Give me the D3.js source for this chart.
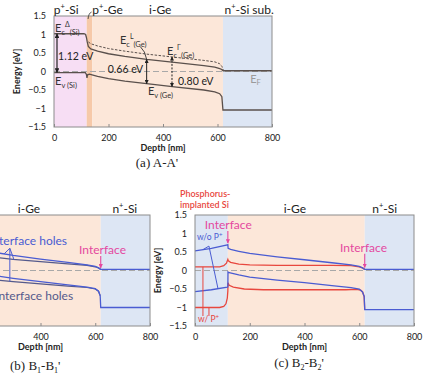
<!DOCTYPE html>
<html>
<head>
<meta charset="utf-8">
<script src="https://cdn.jsdelivr.net/npm/d3@7"></script>
<style>
  body { margin: 0; background: #fff; }
  svg { display: block; font-family: Lato, "Open Sans", sans-serif; }
</style>
</head>
<body>
<div id="chart"></div>
<script>
// ---- data ----
const depthTicks = [0, 200, 400, 600, 800];
const energyTicks = [1.5, 1, 0.5, 0, -0.5, -1, -1.5];

// layer stacks [from nm, to nm, layer]
const layersA = [[0, 120, 'pSi'], [120, 140, 'pGe'], [140, 620, 'iGe'], [620, 800, 'nSi']];
const layersB = [[0, 620, 'iGe'], [620, 800, 'nSi']];
const layersC = [[0, 120, 'nSi'], [120, 620, 'iGe'], [620, 800, 'nSi']];

// (a) A-A'  [depth nm, energy eV]
const ecA = [[0, 1.02], [110, 1.02], [116, 1.0], [119, 0.92], [122, 0.8], [126, 0.68], [135, 0.61], [160, 0.55],
  [200, 0.48], [260, 0.41], [340, 0.33], [450, 0.24], [550, 0.16], [590, 0.12], [608, 0.08], [616, 0.05],
  [621, 0.02], [800, 0.02]];
const ecGammaA = [[126, 0.8], [135, 0.75], [160, 0.69], [200, 0.62], [260, 0.55], [340, 0.47], [450, 0.38],
  [550, 0.3], [590, 0.26], [608, 0.21], [616, 0.14], [621, 0.04]];
const evA = [[0, -0.03], [115, -0.03], [119, -0.08], [121, -0.17], [123, -0.09], [130, -0.07], [160, -0.13],
  [200, -0.19], [260, -0.26], [340, -0.33], [450, -0.42], [550, -0.5], [590, -0.55], [608, -0.6],
  [616, -0.68], [620, -1.04], [800, -1.04]];
const gapDepthsA = [11, 340, 433];
const gapLabelsA = ['1.12 eV', '0.66 eV', '0.80 eV'];

// (b) B1-B1'
const ec1B = [[120, 0.66], [200, 0.54], [241, 0.48], [300, 0.41], [400, 0.31], [500, 0.22], [570, 0.15],
  [600, 0.11], [612, 0.07], [620, 0.03], [800, 0.03]];
const ec2B = [[120, 0.5], [241, 0.35], [300, 0.3], [400, 0.24], [500, 0.18], [570, 0.14], [600, 0.1], [612, 0.07], [620, 0.03]];
const ev1B = [[120, 0.0], [241, -0.15], [300, -0.21], [400, -0.3], [500, -0.39], [570, -0.45], [600, -0.49],
  [612, -0.56], [618, -0.68], [620, -1.0], [800, -1.0]];
const ev2B = [[120, -0.12], [241, -0.26], [300, -0.3], [400, -0.36], [500, -0.42], [570, -0.46], [600, -0.5], [612, -0.56], [618, -0.68]];

// (c) B2-B2'
const blueEcC = [[0, 0.53], [60, 0.6], [118, 0.69], [120, 0.7], [121, 0.6], [130, 0.57], [160, 0.52], [200, 0.46],
  [300, 0.37], [400, 0.29], [500, 0.21], [570, 0.15], [600, 0.11], [612, 0.07], [620, 0.03], [800, 0.03]];
const blueEvC = [[0, -0.57], [60, -0.52], [118, -0.45], [120, -0.44], [120.5, -0.04], [125, -0.06], [160, -0.12],
  [200, -0.18], [300, -0.26], [400, -0.33], [500, -0.41], [570, -0.46], [600, -0.5], [612, -0.58],
  [618, -0.7], [620, -1.06], [800, -1.06]];
const redEcC = [[0, 0.1], [90, 0.1], [105, 0.13], [115, 0.2], [119, 0.28], [120, 0.3], [122, 0.26], [130, 0.22],
  [160, 0.17], [200, 0.15], [300, 0.14], [400, 0.14], [500, 0.14], [570, 0.13], [600, 0.1], [612, 0.07], [620, 0.03]];
const redEvC = [[0, -1.0], [90, -1.0], [105, -0.97], [113, -0.9], [118, -0.75], [120, -0.55], [120.5, -0.33],
  [125, -0.4], [140, -0.45], [180, -0.5], [250, -0.52], [400, -0.52], [550, -0.52], [590, -0.51],
  [605, -0.53], [612, -0.58], [618, -0.7], [620, -1.06]];

// ---- styles ----
const fills = { pSi: '#f7def4', pGe: '#f6c9a9', iGe: '#fce7d9', nSi: '#dde6f4' };
const bandColor = '#5a504c';
const blue = '#4a5cd2';
const slate = '#555a8c';
const red = '#e8473e';
const magenta = '#e4489f';

const svg = d3.select('#chart').append('svg').attr('width', 430).attr('height', 380);
svg.append('rect').attr('width', 430).attr('height', 380).attr('fill', '#fff');

const defs = svg.append('defs');
function marker(id, color, size) {
  defs.append('marker').attr('id', id).attr('viewBox', '0 0 10 10')
    .attr('refX', 9).attr('refY', 5).attr('markerWidth', size).attr('markerHeight', size)
    .attr('orient', 'auto-start-reverse')
    .append('path').attr('d', 'M0,0L10,5L0,10z').attr('fill', color);
}
marker('arrBlack', '#222', 4);
marker('arrPink', magenta, 4);

function interp(series, d) {
  const i = d3.bisector(p => p[0]).left(series, d);
  if (i <= 0) return series[0][1];
  if (i >= series.length) return series[series.length - 1][1];
  const a = series[i - 1], b = series[i];
  return a[1] + (b[1] - a[1]) * (d - a[0]) / (b[0] - a[0]);
}

function panel(box, layers, showY) {
  const x = d3.scaleLinear().domain([0, 800]).range([box.left, box.right]);
  const y = d3.scaleLinear().domain([-1.5, 1.5]).range([box.bottom, box.top]);
  const g = svg.append('g');

  g.selectAll('rect.layer').data(layers).join('rect')
    .attr('class', 'layer')
    .attr('x', d => x(d[0])).attr('width', d => x(d[1]) - x(d[0]))
    .attr('y', box.top).attr('height', box.bottom - box.top)
    .attr('fill', d => fills[d[2]]);

  // only the ticks that fall inside the page (panel b is cut at the left edge)
  const visibleTicks = depthTicks.filter(t => x(t) > 8);
  const xa = g.append('g').attr('transform', `translate(0,${box.bottom})`)
    .call(d3.axisBottom(x).tickValues(visibleTicks).tickSize(-3).tickPadding(8));
  xa.select('.domain').remove();
  xa.selectAll('line').attr('stroke', '#8a8a8a');
  xa.selectAll('text').attr('font-size', 9).attr('fill', '#222').attr('font-family', 'Lato, sans-serif');

  if (showY) {
    const ya = g.append('g').attr('transform', `translate(${box.left},0)`)
      .call(d3.axisLeft(y).tickValues(energyTicks).tickSize(0).tickPadding(8).tickFormat(d3.format('')));
    ya.select('.domain').remove();
    ya.selectAll('text').attr('font-size', 9).attr('fill', '#222').attr('font-family', 'Lato, sans-serif');
    g.append('text')
      .attr('transform', `translate(${box.left - 34},${(box.top + box.bottom) / 2}) rotate(-90)`)
      .attr('text-anchor', 'middle').attr('font-size', 9).attr('font-weight', 'bold').attr('fill', '#222')
      .text('Energy [eV]');
  }

  g.append('text').attr('x', (box.left + box.right) / 2).attr('y', box.bottom + 24)
    .attr('text-anchor', 'middle').attr('font-size', 9).attr('font-weight', 'bold').attr('fill', '#222')
    .text('Depth [nm]');

  const line = d3.line().x(d => x(d[0])).y(d => y(d[1]));
  return { g, x, y, line };
}

function curve(p, data, color, width, dash) {
  p.g.append('path').datum(data).attr('d', p.line)
    .attr('fill', 'none').attr('stroke', color).attr('stroke-width', width)
    .attr('stroke-dasharray', dash || null);
}

function fermi(p) {
  p.g.append('line').attr('x1', p.x(0)).attr('x2', p.x(800)).attr('y1', p.y(0)).attr('y2', p.y(0))
    .attr('stroke', '#a8a8a8').attr('stroke-width', 1.2).attr('stroke-dasharray', '6,3');
}

function border(p) {
  p.g.append('rect').attr('x', p.x(0)).attr('y', p.y(1.5))
    .attr('width', p.x(800) - p.x(0)).attr('height', p.y(-1.5) - p.y(1.5))
    .attr('fill', 'none').attr('stroke', '#8c8c8c').attr('stroke-width', 1);
}

// rich text: parts = [text, dy, size]
function rich(g, px, py, parts, color, anchor) {
  const t = g.append('text').attr('x', px).attr('y', py).attr('fill', color)
    .attr('text-anchor', anchor || 'start');
  parts.forEach(([s, dy, size]) => {
    t.append('tspan').attr('dy', dy).attr('font-size', size).text(s);
  });
  return t;
}

function label(p, d, e, s, opts) {
  return p.g.append('text').attr('x', p.x(d)).attr('y', p.y(e))
    .attr('font-size', opts.size || 12).attr('fill', opts.color || '#222')
    .attr('text-anchor', opts.anchor || 'start').attr('font-weight', opts.weight || null)
    .text(s);
}

function pinkArrow(p, d, e0, e1) {
  p.g.append('line').attr('x1', p.x(d)).attr('x2', p.x(d)).attr('y1', p.y(e0)).attr('y2', p.y(e1))
    .attr('stroke', magenta).attr('stroke-width', 1.1).attr('marker-end', 'url(#arrPink)');
}

function leader(p, from, to, color) {
  p.g.append('line').attr('x1', p.x(from[0])).attr('y1', p.y(from[1]))
    .attr('x2', p.x(to[0])).attr('y2', p.y(to[1]))
    .attr('stroke', color).attr('stroke-width', 1);
}

// ---- panel (a) ----
const pa = panel({ left: 54, right: 272, top: 16, bottom: 127 }, layersA, true);
fermi(pa);
curve(pa, ecGammaA, bandColor, 1, '2.5,1.5');
curve(pa, ecA, bandColor, 1.3);
curve(pa, evA, bandColor, 1.3);
border(pa);

gapDepthsA.forEach((d, i) => {
  const top = i === 2 ? interp(ecGammaA, d) : interp(ecA, d);
  const bottom = interp(evA, d);
  pa.g.append('line').attr('x1', pa.x(d)).attr('x2', pa.x(d))
    .attr('y1', pa.y(top)).attr('y2', pa.y(bottom))
    .attr('stroke', '#222').attr('stroke-width', i === 0 ? 1.2 : 1)
    .attr('stroke-dasharray', i === 2 ? '2,1.5' : null)
    .attr('marker-start', 'url(#arrBlack)').attr('marker-end', 'url(#arrBlack)');
});
label(pa, 15, 0.31, gapLabelsA[0], { size: 10.5 });
label(pa, 327, -0.04, gapLabelsA[1], { size: 10.5, anchor: 'end' });
label(pa, 455, -0.36, gapLabelsA[2], { size: 10.5 });

rich(pa.g, pa.x(4), pa.y(1.07), [['E', 0, 11], ['c', 3, 7.5], ['Δ', -8, 7], ['(Si)', 8, 7.5]], '#333');
rich(pa.g, pa.x(4), pa.y(-0.36), [['E', 0, 11], ['v', 3, 7.5], [' (Si)', 0, 7.5]], '#333');
rich(pa.g, pa.x(242), pa.y(0.74), [['E', 0, 11], ['c', 3, 7.5], ['L', -8, 7], ['(Ge)', 8, 7.5]], '#333');
rich(pa.g, pa.x(415), pa.y(0.45), [['E', 0, 11], ['c', 3, 7.5], ['Γ', -8, 7], ['(Ge)', 8, 7.5]], '#333');
rich(pa.g, pa.x(345), pa.y(-0.64), [['E', 0, 11], ['v', 3, 7.5], [' (Ge)', 0, 7.5]], '#333');
rich(pa.g, pa.x(720), pa.y(-0.32), [['E', 0, 11], ['F', 2, 7.5]], '#9a9a9a');
pa.g.append('path')
  .attr('d', `M${pa.x(317)},${pa.y(0.67)} Q${pa.x(335)},${pa.y(0.55)} ${pa.x(340)},${pa.y(interp(ecA, 340))}`)
  .attr('fill', 'none').attr('stroke', '#333').attr('stroke-width', 0.9);

// layer names above (a)
rich(pa.g, pa.x(45), pa.y(1.5) - 2, [['p', 0, 12], ['+', -5, 7.5], ['-Si', 5, 12]], '#222', 'middle');
rich(pa.g, pa.x(140), pa.y(1.5) - 2, [['p', 0, 12], ['+', -5, 7.5], ['-Ge', 5, 12]], '#222');
pa.g.append('path')
  .attr('d', `M${pa.x(125)},${pa.y(1.5) + 3} Q${pa.x(127)},${pa.y(1.5) - 3} ${pa.x(138)},${pa.y(1.5) - 4}`)
  .attr('fill', 'none').attr('stroke', '#333').attr('stroke-width', 0.8);
label(pa, 390, 1.5, 'i-Ge', { size: 12, anchor: 'middle' }).attr('dy', -2);
rich(pa.g, pa.x(716), pa.y(1.5) - 2, [['n', 0, 12], ['+', -5, 7.5], ['-Si sub.', 5, 12]], '#222', 'middle');

svg.append('text').attr('x', 157).attr('y', 167).attr('text-anchor', 'middle')
  .attr('font-family', '"Liberation Serif", serif').attr('font-size', 13).attr('fill', '#222')
  .text("(a) A-A'");

// ---- panel (b) ----
const pb = panel({ left: -69, right: 150, top: 215, bottom: 326 }, layersB, false);
curve(pb, ec2B, slate, 1.2);
curve(pb, ev2B, slate, 1.2);
curve(pb, ec1B, blue, 1.3);
curve(pb, ev1B, blue, 1.3);
fermi(pb);
border(pb);
label(pb, 358, 1.5, 'i-Ge', { size: 12, anchor: 'middle' }).attr('dy', -2);
rich(pb.g, pb.x(708), pb.y(1.5) - 2, [['n', 0, 12], ['+', -5, 7.5], ['-Si', 5, 12]], '#222', 'middle');
label(pb, 497, 0.69, 'Interface holes', { size: 12, anchor: 'end', color: blue });
label(pb, 519, -0.8, 'Interface holes', { size: 12, anchor: 'end', color: slate });
label(pb, 541, 0.45, 'Interface', { size: 12, color: magenta });
pinkArrow(pb, 620, 0.39, 0.07);
const hubB = [288, 0.6];
leader(pb, hubB, [267, interp(ec1B, 267)], blue);
leader(pb, hubB, [303, interp(ec2B, 303)], blue);
leader(pb, hubB, [288, interp(ev2B, 288)], blue);
svg.append('text').attr('x', 10).attr('y', 370)
  .attr('font-family', '"Liberation Serif", serif').attr('font-size', 13).attr('fill', '#222')
  .call(t => {
    t.append('tspan').text('(b) B');
    t.append('tspan').attr('font-size', 8).attr('dy', 3).text('1');
    t.append('tspan').attr('dy', -3).text('-B');
    t.append('tspan').attr('font-size', 8).attr('dy', 3).text('1');
    t.append('tspan').attr('dy', -3).text("'");
  });

// ---- panel (c) ----
const pc = panel({ left: 195, right: 414, top: 215, bottom: 326 }, layersC, true);
fermi(pc);
curve(pc, redEcC, red, 1.3);
curve(pc, redEvC, red, 1.3);
curve(pc, blueEcC, blue, 1.3);
curve(pc, blueEvC, blue, 1.3);
border(pc);
label(pc, 365, 1.5, 'i-Ge', { size: 12, anchor: 'middle' }).attr('dy', -2);
rich(pc.g, pc.x(693), pc.y(1.5) - 2, [['n', 0, 12], ['+', -5, 7.5], ['-Si', 5, 12]], '#222', 'middle');
label(pc, -55, 1.99, 'Phosphorus-', { size: 9, color: red, weight: 600 });
label(pc, -55, 1.69, 'implanted Si', { size: 9, color: red, weight: 600 });
label(pc, 36, 1.12, 'Interface', { size: 12, color: magenta });
pinkArrow(pc, 120, 1.07, 0.74);
label(pc, 530, 0.5, 'Interface', { size: 12, color: magenta });
pinkArrow(pc, 620, 0.45, 0.08);
rich(pc.g, pc.x(7), pc.y(0.82), [['w/o P', 0, 8.5], ['+', -3, 6]], blue);
rich(pc.g, pc.x(11), pc.y(-1.39), [['w/ P', 0, 8.5], ['+', -3, 6]], red);
const hubC = [51, 0.66];
leader(pc, hubC, [29, interp(blueEcC, 29)], blue);
leader(pc, hubC, [84, interp(blueEvC, 84)], blue);
leader(pc, [29, -1.23], [29, interp(redEcC, 29)], red);
leader(pc, [51, -1.23], [51, interp(redEvC, 51)], red);
svg.append('text').attr('x', 299).attr('y', 367).attr('text-anchor', 'middle')
  .attr('font-family', '"Liberation Serif", serif').attr('font-size', 13).attr('fill', '#222')
  .call(t => {
    t.append('tspan').text('(c) B');
    t.append('tspan').attr('font-size', 8).attr('dy', 3).text('2');
    t.append('tspan').attr('dy', -3).text('-B');
    t.append('tspan').attr('font-size', 8).attr('dy', 3).text('2');
    t.append('tspan').attr('dy', -3).text("'");
  });
</script>
</body>
</html>
